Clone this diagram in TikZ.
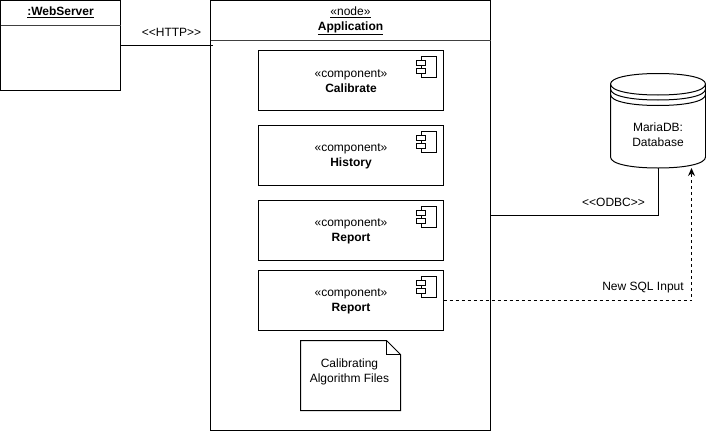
\documentclass[tikz,border=0pt]{standalone}
\usepackage{fontspec}
\setmainfont{Liberation Sans}
\usetikzlibrary{arrows.meta}
\tikzset{
  every node/.style={font=\fontsize{12}{14.5}\selectfont, align=center, inner sep=0pt, outer sep=0pt},
  compbox/.style={draw=black, line width=1pt, fill=white, minimum width=185pt, minimum height=60pt},
  plain/.style={line width=1pt, draw=black},
  divider/.style={line width=1pt, draw=black!75},
  link/.style={line width=1pt, draw=black},
  dashlink/.style={line width=1pt, draw=black, dash pattern=on 3pt off 3pt, -{Stealth[length=8pt,width=7pt]}}
}
\newcommand{\compicon}[2]{%
  \draw[plain,fill=white] (#1+5,#2) rectangle (#1+20,#2+21);
  \draw[plain,fill=white] (#1,#2+4) rectangle (#1+9,#2+9);
  \draw[plain,fill=white] (#1,#2+12) rectangle (#1+9,#2+17);
}
\newcommand{\firstline}{\rule{0pt}{9.2pt}}
\begin{document}
\begin{tikzpicture}[x=1pt,y=-1pt]
\useasboundingbox (0,0) rectangle (706,431);
\fill[white] (0,0) rectangle (706,431);

% WebServer
\node[draw=black,line width=1pt,fill=white,minimum width=120pt,minimum height=90pt] (ws) at (60.5,45.5) {};
\draw[divider] (0.5,25.5) -- (120.5,25.5);
\node (wslabel) at (60.5,12) {\textbf{\underline{:WebServer}}};

% Application
\node[draw=black,line width=1pt,fill=white,minimum width=280pt,minimum height=430pt] (app) at (350.5,215.5) {};
\draw[divider] (210.5,40.5) -- (490.5,40.5);
\node (applabel) at (350.5,21) {\underline{«node»}\\[0.5pt]\textbf{\underline{Application}}};

% Components
\node[compbox] (c1) at (351,80.5) {\firstline«component»\\\textbf{Calibrate}};
\node[compbox] (c2) at (351,155.5) {\firstline«component»\\\textbf{History}};
\node[compbox] (c3) at (351,230.5) {\firstline«component»\\\textbf{Report}};
\node[compbox] (c4) at (351,300.5) {\firstline«component»\\\textbf{Report}};
\compicon{416.5}{56.5}
\compicon{416.5}{131.5}
\compicon{416.5}{206.5}
\compicon{416.5}{276.5}

% File note
\draw[plain,fill=white,line join=miter] (300.5,340.5) -- (386.5,340.5) -- (400.5,354.5) -- (400.5,410.5) -- (300.5,410.5) -- cycle;
\draw[plain] (386.5,340.5) -- (386.5,354.5) -- (400.5,354.5);
\node (file) at (349.5,372) {Calibrating\\Algorithm Files};

% Database
\draw[plain,fill=white] (610.5,84) .. controls (610.5,77.5) and (631,73.5) .. (658,73.5)
  .. controls (685,73.5) and (705.5,77.5) .. (705.5,84)
  -- (705.5,157) .. controls (705.5,164) and (685,168) .. (658,168)
  .. controls (631,168) and (610.5,164) .. (610.5,157) -- cycle;
\draw[plain] (610.5,84) .. controls (610.5,91) and (631,95) .. (658,95) .. controls (685,95) and (705.5,91) .. (705.5,84);
\draw[plain] (610.5,89) .. controls (610.5,96) and (631,100) .. (658,100) .. controls (685,100) and (705.5,96) .. (705.5,89);
\draw[plain] (610.5,94.5) .. controls (610.5,101.5) and (631,105.5) .. (658,105.5) .. controls (685,105.5) and (705.5,101.5) .. (705.5,94.5);
\node[minimum width=95pt,minimum height=94pt] (db) at (658.5,121) {};
\node (dblabel) at (658,134.5) {MariaDB:\\Database};

% Connectors
\coordinate (appport) at (213,45.5);
\draw[link] (ws.east) -- (appport);
\node (http) at (171.5,32.5) {{<}{<}HTTP{>}{>}};

\draw[link] (app.east) -| (db.south);
\node (odbc) at (613.5,202.5) {{<}{<}ODBC{>}{>}};

\coordinate (dbport) at (691.5,168);
\draw[dashlink] (c4.east) -| (dbport);
\node (sql) at (643,288) {New SQL Input};
\end{tikzpicture}
\end{document}
